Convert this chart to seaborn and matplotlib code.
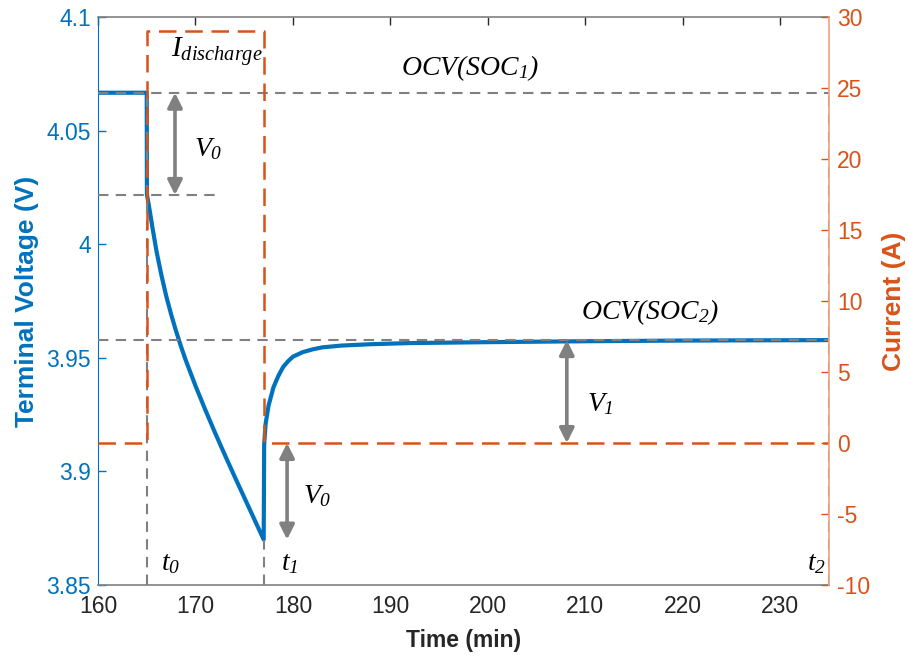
import matplotlib
matplotlib.use("Agg")
import matplotlib.pyplot as plt
import seaborn as sns
import pandas as pd

# Terminal voltage during a discharge pulse and the following rest period
time_v = [160.0, 165.0, 165.02, 165.1, 165.3, 165.6, 166.0, 166.5, 167.0, 167.5,
          168.0, 168.5, 169.0, 170.0, 171.0, 172.0, 173.0, 174.0, 175.0, 176.0,
          177.0, 177.05, 177.2, 177.5, 178.0, 178.5, 179.0, 179.5, 180.0, 181.0,
          182.0, 183.0, 185.0, 188.0, 192.0, 200.0, 210.0, 220.0, 235.0]
voltage = [4.0667, 4.0667, 4.0220, 4.0200, 4.0150, 4.0070, 3.9970, 3.9865, 3.9772, 3.9692,
           3.9619, 3.9552, 3.9490, 3.9377, 3.9272, 3.9171, 3.9074, 3.8979, 3.8886, 3.8793,
           3.8700, 3.9120, 3.9210, 3.9290, 3.9370, 3.9420, 3.9460, 3.9485, 3.9505, 3.9525,
           3.9537, 3.9546, 3.9554, 3.9560, 3.9565, 3.9569, 3.9573, 3.9576, 3.9578]

# Applied current profile
time_i = [160.0, 165.0, 165.0, 177.0, 177.0, 235.0]
current = [0.0, 0.0, 29.0, 29.0, 0.0, 0.0]

# Reference levels and instants
ocv1 = 4.0667
ocv2 = 3.9578
v_after_step = 4.0217
v_rest_start = 3.9125
v_end_discharge = 3.8700
t0, t1, t2 = 165.0, 177.0, 235.0

x_ticks = [160, 170, 180, 190, 200, 210, 220, 230]
v_ticks = [3.85, 3.9, 3.95, 4.0, 4.05, 4.1]
v_tick_labels = ["3.85", "3.9", "3.95", "4", "4.05", "4.1"]
i_ticks = [-10, -5, 0, 5, 10, 15, 20, 25, 30]
i_tick_labels = ["-10", "-5", "0", "5", "10", "15", "20", "25", "30"]

BLUE = "#0072BD"
ORANGE = "#D95319"
GRAY = "#808080"
DARK = "#262626"

sns.set_style("white")
plt.rcParams["font.family"] = ["Liberation Sans", "DejaVu Sans"]
# all annotation math is set in a Times-like italic, digits and brackets included
plt.rcParams["mathtext.fontset"] = "custom"
plt.rcParams["mathtext.rm"] = "Liberation Serif:italic"
plt.rcParams["mathtext.it"] = "Liberation Serif:italic"
plt.rcParams["mathtext.bf"] = "Liberation Serif:bold"

fig = plt.figure(figsize=(9.09, 6.57), dpi=100)
ax = fig.add_axes([0.1078, 0.1096, 0.912 - 0.1078, 0.974 - 0.1096])

df_v = pd.DataFrame({"Time": time_v, "Voltage": voltage})
df_i = pd.DataFrame({"Time": time_i, "Current": current})

sns.lineplot(data=df_v, x="Time", y="Voltage", estimator=None, sort=False,
             color=BLUE, lw=3.0, ax=ax, zorder=3)

gdash = dict(color=GRAY, lw=1.5, ls=(0, (5, 3.5)), zorder=4)
ax.plot([160, 235], [ocv1, ocv1], **gdash)
ax.plot([160, 235], [ocv2, ocv2], **gdash)
ax.plot([160, 172.0], [v_after_step, v_after_step], **gdash)
ax.plot([t0, t0], [3.85, ocv1], **gdash)
ax.plot([t1, t1], [3.85, v_end_discharge], **gdash)
ax.plot([t2, t2], [3.85, ocv1], **gdash)

arrow = dict(arrowstyle="<|-|>", color=GRAY, lw=2.6, mutation_scale=22,
             shrinkA=0, shrinkB=0)
ax.annotate("", xy=(167.9, ocv1), xytext=(167.9, v_after_step), arrowprops=arrow, zorder=5)
ax.annotate("", xy=(179.4, v_rest_start), xytext=(179.4, v_end_discharge), arrowprops=arrow, zorder=5)
ax.annotate("", xy=(208.1, ocv2), xytext=(208.1, v_rest_start), arrowprops=arrow, zorder=5)

tk = dict(color="black", fontsize=20, ha="center", va="center", zorder=6)
ax.text(198.2, 4.0776, r"$OCV(SOC_{1})$", **tk)
ax.text(216.6, 3.9700, r"$OCV(SOC_{2})$", **tk)
ax.text(171.3, 4.0420, r"$V_{0}$", **tk)
ax.text(182.5, 3.8890, r"$V_{0}$", **tk)
ax.text(211.5, 3.9295, r"$V_{1}$", **tk)
ax.text(167.5, 3.8595, r"$t_{0}$", **tk)
ax.text(179.7, 3.8595, r"$t_{1}$", **tk)
ax.text(233.7, 3.8595, r"$t_{2}$", **tk)

ax.set_xlim(160, 235)
ax.set_ylim(3.85, 4.1)
ax.set_xticks(x_ticks)
ax.set_yticks(v_ticks)
ax.set_yticklabels(v_tick_labels)
ax.set_xlabel("Time (min)", fontsize=16.5, fontweight="bold", color=DARK, labelpad=8)
ax.set_ylabel("Terminal Voltage (V)", fontsize=19, fontweight="bold", color=BLUE, labelpad=5)
ax.tick_params(axis="x", direction="in", length=6, width=1, colors=DARK,
               labelsize=16.5, top=True, pad=7, labelcolor=DARK)
ax.tick_params(axis="y", direction="in", length=6, width=1, colors=BLUE,
               labelsize=16.5, right=False, pad=5)
for side in ("top", "bottom"):
    ax.spines[side].set_color(GRAY)
    ax.spines[side].set_linewidth(1.2)
ax.spines["left"].set_color(BLUE)
ax.spines["right"].set_visible(False)

ax2 = ax.twinx()
sns.lineplot(data=df_i, x="Time", y="Current", estimator=None, sort=False,
             color=ORANGE, lw=1.8, ls=(0, (7, 3.5)), ax=ax2)
ax2.text(172.2, 27.6, r"$I_{discharge}$", color="black", fontsize=21,
         ha="center", va="center")
ax2.set_ylim(-10, 30)
ax2.set_yticks(i_ticks)
ax2.set_yticklabels(i_tick_labels)
ax2.set_ylabel("Current (A)", fontsize=19, fontweight="bold", color=ORANGE, labelpad=8)
ax2.set_xlabel("")
ax2.tick_params(axis="y", direction="in", length=6, width=1, colors=ORANGE,
                labelsize=16.5, pad=6)
for side in ("top", "bottom", "left"):
    ax2.spines[side].set_visible(False)
ax2.spines["right"].set_color("#F0A080")
ax2.spines["right"].set_linewidth(1.2)

fig.savefig("out.png", dpi=100)
